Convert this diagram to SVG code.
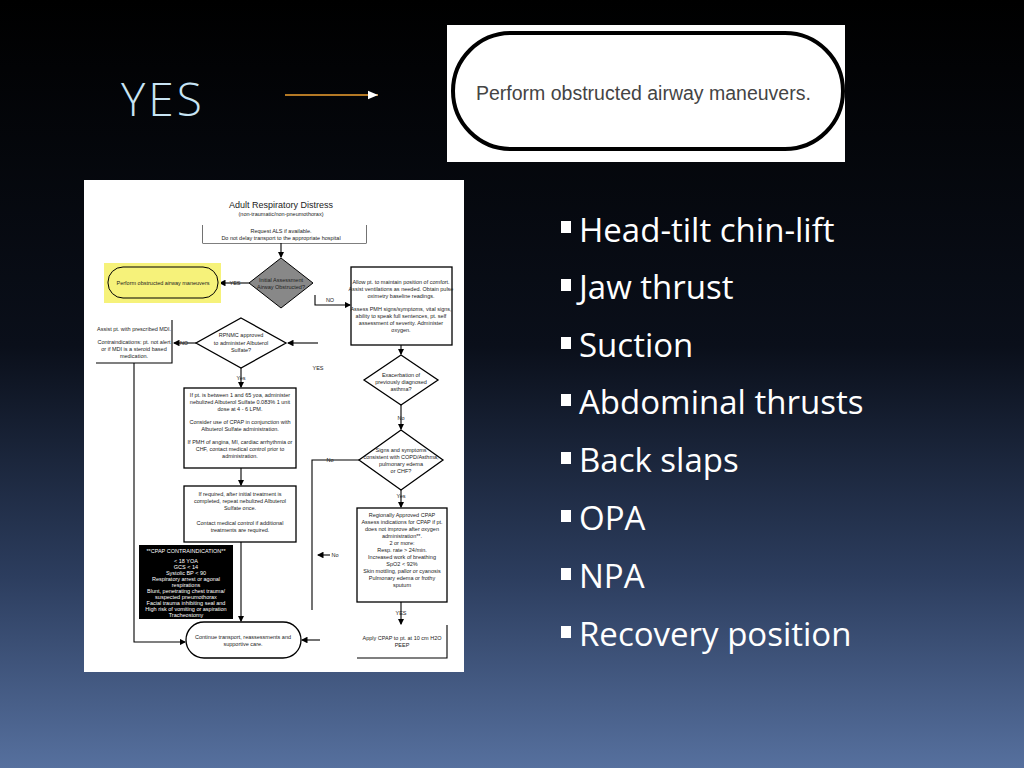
<svg xmlns="http://www.w3.org/2000/svg" width="1024" height="768" viewBox="0 0 1024 768">
<defs>
<linearGradient id="bg" x1="0" y1="0" x2="0" y2="1">
<stop offset="0" stop-color="#000"/><stop offset="0.45" stop-color="#0a0f1a"/><stop offset="0.75" stop-color="#2c3d5e"/><stop offset="1" stop-color="#56709e"/>
</linearGradient>
<marker id="a" markerWidth="6" markerHeight="6" refX="5" refY="3" orient="auto"><path d="M0,0 L6,3 L0,6z" fill="#000"/></marker>
<marker id="o" markerWidth="8" markerHeight="8" refX="7" refY="4" orient="auto"><path d="M0,1 L7,4 L0,7z" fill="#fff"/></marker>
<style>
.b{fill:#fff;font-family:"Open Sans","Liberation Sans",sans-serif;font-size:33px}
.s{fill:#fff}
.f{font-family:"Liberation Sans",sans-serif;fill:#222;font-size:5.5px;text-anchor:middle}
.bx{fill:#fff;stroke:#000;stroke-width:1.3}
.ln{stroke:#000;stroke-width:1.1;fill:none}
</style>
</defs>
<rect width="1024" height="768" fill="url(#bg)"/>
<text x="121" y="116" font-family="Open Sans,Liberation Sans,sans-serif" font-size="46" fill="#c8e4f4" font-weight="300" letter-spacing="3">YES</text>
<line x1="285" y1="95" x2="378" y2="95" stroke="#f0a030" stroke-width="1.5" marker-end="url(#o)"/>
<g id="top">
<rect x="447" y="25" width="398" height="137" fill="#fff"/>
<rect x="453" y="33" width="390" height="116" rx="58" fill="#fff" stroke="#000" stroke-width="4"/>
<text x="476" y="100" font-family="Liberation Sans,sans-serif" font-size="19.5" fill="#444">Perform obstructed airway maneuvers.</text>
</g>
<g id="chart">
<rect x="84" y="180" width="380" height="492" fill="#fff"/>
<text x="281" y="208" font-family="Liberation Sans,sans-serif" font-size="9" text-anchor="middle" fill="#222">Adult Respiratory Distress</text>
<text x="281" y="216" class="f">(non-traumatic/non-pneumothorax)</text>
<g id="connectors">
<path class="ln" d="M203,225 V243 H366 V225"/>
<path class="ln" d="M281,243 V257" marker-end="url(#a)"/>
<path class="ln" d="M249,283 H220" marker-end="url(#a)"/>
<path class="ln" d="M315,295 V305 H350" marker-end="url(#a)"/>
<path class="ln" d="M318,343 H288" marker-end="url(#a)"/>
<path class="ln" d="M196,343 H174" marker-end="url(#a)"/>
<path class="ln" d="M401,345 V354" marker-end="url(#a)"/>
<path class="ln" d="M241,368 V387" marker-end="url(#a)"/>
<path class="ln" d="M401,405 V429" marker-end="url(#a)"/>
<path class="ln" d="M241,468 V485" marker-end="url(#a)"/>
<path class="ln" d="M359,460 H312 V610"/>
<path class="ln" d="M401,490 V507" marker-end="url(#a)"/>
<path class="ln" d="M401,602 V624" marker-end="url(#a)"/>
<path class="ln" d="M134,363 V642 H185" marker-end="url(#a)"/>
<path class="ln" d="M241,542 V621" marker-end="url(#a)"/>
<path class="ln" d="M320,640 H302" marker-end="url(#a)"/>
<path class="ln" d="M330,555 H318" marker-end="url(#a)"/>
<text x="235" y="285" class="f">YES</text><text x="330" y="302" class="f">NO</text>
<text x="184" y="345" class="f">NO</text><text x="318" y="370" class="f">YES</text>
<text x="241" y="380" class="f">Yes</text><text x="401" y="420" class="f">No</text>
<text x="330" y="462" class="f">No</text><text x="401" y="498" class="f">Yes</text>
<text x="335" y="557" class="f">No</text><text x="401" y="615" class="f">YES</text>
</g>
<g id="n1"><rect x="203" y="225" width="163" height="18" fill="#fff"/><text x="281" y="233" class="f">Request ALS if available.</text><text x="281" y="240" class="f">Do not delay transport to the appropriate hospital</text></g>
<g id="n2"><path d="M281,258 L313,283 L281,308 L249,283z" fill="#888" stroke="#000"/><text x="281" y="282" class="f">Initial Assessment</text><text x="281" y="289" class="f">Airway Obstructed?</text></g>
<g id="n3"><rect x="104" y="263" width="117" height="40" fill="#f6f27a"/><rect x="108" y="267" width="110" height="31" rx="15" fill="none" stroke="#000"/><text x="163" y="285" class="f">Perform obstructed airway maneuvers</text></g>
<g id="n4"><rect x="351" y="267" width="101" height="78" class="bx"/><text x="401" y="284" class="f">Allow pt. to maintain position of comfort.</text><text x="401" y="291" class="f">Assist ventilations as needed. Obtain pulse</text><text x="401" y="298" class="f">oximetry baseline readings.</text><text x="401" y="311" class="f">Assess PMH signs/symptoms, vital signs,</text><text x="401" y="318" class="f">ability to speak full sentences, pt. self</text><text x="401" y="325" class="f">assessment of severity. Administer</text><text x="401" y="332" class="f">oxygen.</text></g>
<g id="n5"><path d="M241,318 L286,343 L241,368 L196,343z" class="bx"/><text x="241" y="337" class="f">RPNMC approved</text><text x="241" y="345" class="f">to administer Albuterol</text><text x="241" y="352" class="f">Sulfate?</text></g>
<g id="n6"><rect x="96" y="320" width="76" height="43" fill="#fff"/><path class="ln" d="M96,363 H172 V320"/><text x="134" y="331" class="f">Assist pt. with prescribed MDI.</text><text x="134" y="344" class="f">Contraindications: pt. not alert</text><text x="134" y="351" class="f">or if MDI is a steroid based</text><text x="134" y="358" class="f">medication.</text></g>
<g id="n7"><path d="M401,355 L438,380 L401,405 L364,380z" class="bx"/><text x="401" y="377" class="f">Exacerbation of</text><text x="401" y="384" class="f">previously diagnosed</text><text x="401" y="391" class="f">asthma?</text></g>
<g id="n8"><rect x="184" y="388" width="112" height="80" class="bx"/><text x="240" y="397" class="f">If pt. is between 1 and 65 yoa, administer</text><text x="240" y="404" class="f">nebulized Albuterol Sulfate 0.083% 1 unit</text><text x="240" y="411" class="f">dose at 4 - 6 LPM.</text><text x="240" y="424" class="f">Consider use of CPAP in conjunction with</text><text x="240" y="431" class="f">Albuterol Sulfate administration.</text><text x="240" y="444" class="f">If PMH of angina, MI, cardiac arrhythmia or</text><text x="240" y="451" class="f">CHF, contact medical control prior to</text><text x="240" y="458" class="f">administration.</text></g>
<g id="n9"><path d="M401,430 L443,460 L401,490 L359,460z" class="bx"/><text x="401" y="452" class="f">Signs and symptoms</text><text x="401" y="459" class="f">consistent with COPD/Asthma,</text><text x="401" y="466" class="f">pulmonary edema</text><text x="401" y="473" class="f">or CHF?</text></g>
<g id="n10"><rect x="184" y="486" width="112" height="56" class="bx"/><text x="240" y="496" class="f">If required, after initial treatment is</text><text x="240" y="503" class="f">completed, repeat nebulized Albuterol</text><text x="240" y="510" class="f">Sulfate once.</text><text x="240" y="525" class="f">Contact medical control if additional</text><text x="240" y="532" class="f">treatments are required.</text></g>
<g id="n11"><rect x="357" y="508" width="90" height="94" class="bx"/><text x="402" y="517" class="f">Regionally Approved CPAP</text><text x="402" y="524" class="f">Assess indications for CPAP if pt.</text><text x="402" y="531" class="f">does not improve after oxygen</text><text x="402" y="538" class="f">administration**.</text><text x="402" y="545" class="f">2 or more:</text><text x="402" y="552" class="f">Resp. rate &gt; 24/min.</text><text x="402" y="559" class="f">Increased work of breathing</text><text x="402" y="566" class="f">SpO2 &lt; 92%</text><text x="402" y="573" class="f">Skin mottling, pallor or cyanosis</text><text x="402" y="580" class="f">Pulmonary edema or frothy</text><text x="402" y="587" class="f">sputum</text></g>
<g id="n12"><rect x="139" y="545" width="94" height="74" fill="#000"/><g><text x="186" y="553" class="f" style="fill:#fff">**CPAP CONTRAINDICATION**</text><text x="186" y="563" class="f" style="fill:#fff">&lt; 18 YOA</text><text x="186" y="569" class="f" style="fill:#fff">GCS &lt; 14</text><text x="186" y="575" class="f" style="fill:#fff">Systolic BP &lt; 90</text><text x="186" y="581" class="f" style="fill:#fff">Respiratory arrest or agonal</text><text x="186" y="587" class="f" style="fill:#fff">respirations</text><text x="186" y="593" class="f" style="fill:#fff">Blunt, penetrating chest trauma/</text><text x="186" y="599" class="f" style="fill:#fff">suspected pneumothorax</text><text x="186" y="605" class="f" style="fill:#fff">Facial trauma inhibiting seal and</text><text x="186" y="611" class="f" style="fill:#fff">High risk of vomiting or aspiration</text><text x="186" y="617" class="f" style="fill:#fff">Tracheostomy</text></g></g>
<g id="n13"><rect x="186" y="622" width="115" height="36" rx="18" class="bx"/><text x="243" y="639" class="f">Continue transport, reassessments and</text><text x="243" y="646" class="f">supportive care.</text></g>
<g id="n14"><rect x="357" y="625" width="90" height="33" fill="#fff"/><path class="ln" d="M357,658 H447 V625"/><text x="402" y="640" class="f">Apply CPAP to pt. at 10 cm H2O</text><text x="402" y="647" class="f">PEEP</text></g>
</g>
<g id="bullets">
<rect x="561" y="221" width="10" height="12" class="s"/><text x="579" y="242" class="b">Head-tilt chin-lift</text>
<rect x="561" y="279" width="10" height="12" class="s"/><text x="579" y="299" class="b">Jaw thrust</text>
<rect x="561" y="337" width="10" height="12" class="s"/><text x="579" y="357" class="b">Suction</text>
<rect x="561" y="394" width="10" height="12" class="s"/><text x="579" y="414" class="b">Abdominal thrusts</text>
<rect x="561" y="452" width="10" height="12" class="s"/><text x="579" y="472" class="b">Back slaps</text>
<rect x="561" y="510" width="10" height="12" class="s"/><text x="579" y="530" class="b">OPA</text>
<rect x="561" y="568" width="10" height="12" class="s"/><text x="579" y="588" class="b">NPA</text>
<rect x="561" y="626" width="10" height="12" class="s"/><text x="579" y="646" class="b">Recovery position</text>
</g>
</svg>
